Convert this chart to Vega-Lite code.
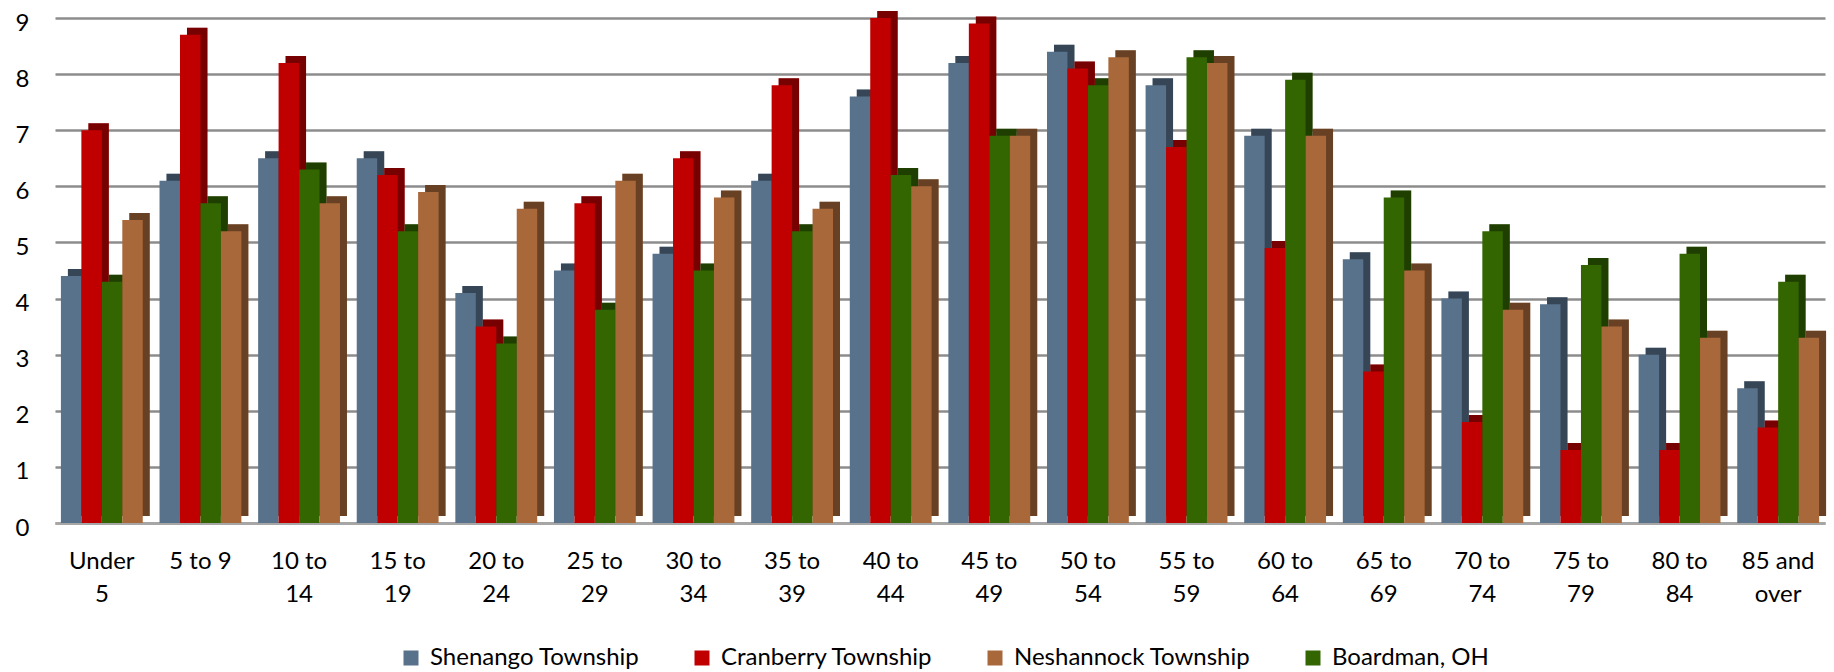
{
  "$schema": "https://vega.github.io/schema/vega-lite/v6.json",
  "width": 1770,
  "height": 505,
  "autosize": {"type": "none"},
  "padding": {"left": 55, "top": 18, "right": 9, "bottom": 149},
  "background": "white",
  "config": {
    "view": {"stroke": null},
    "font": "Lato",
    "axis": {"labelFont": "Lato", "labelColor": "#000000"},
    "legend": {"labelFont": "Lato", "labelColor": "#000000"}
  },
  "data": {
    "values": [
      {"age": "Under 5", "place": "Shenango Township", "value": 4.4},
      {"age": "Under 5", "place": "Cranberry Township", "value": 7.0},
      {"age": "Under 5", "place": "Boardman, OH", "value": 4.3},
      {"age": "Under 5", "place": "Neshannock Township", "value": 5.4},
      {"age": "5 to 9", "place": "Shenango Township", "value": 6.1},
      {"age": "5 to 9", "place": "Cranberry Township", "value": 8.7},
      {"age": "5 to 9", "place": "Boardman, OH", "value": 5.7},
      {"age": "5 to 9", "place": "Neshannock Township", "value": 5.2},
      {"age": "10 to 14", "place": "Shenango Township", "value": 6.5},
      {"age": "10 to 14", "place": "Cranberry Township", "value": 8.2},
      {"age": "10 to 14", "place": "Boardman, OH", "value": 6.3},
      {"age": "10 to 14", "place": "Neshannock Township", "value": 5.7},
      {"age": "15 to 19", "place": "Shenango Township", "value": 6.5},
      {"age": "15 to 19", "place": "Cranberry Township", "value": 6.2},
      {"age": "15 to 19", "place": "Boardman, OH", "value": 5.2},
      {"age": "15 to 19", "place": "Neshannock Township", "value": 5.9},
      {"age": "20 to 24", "place": "Shenango Township", "value": 4.1},
      {"age": "20 to 24", "place": "Cranberry Township", "value": 3.5},
      {"age": "20 to 24", "place": "Boardman, OH", "value": 3.2},
      {"age": "20 to 24", "place": "Neshannock Township", "value": 5.6},
      {"age": "25 to 29", "place": "Shenango Township", "value": 4.5},
      {"age": "25 to 29", "place": "Cranberry Township", "value": 5.7},
      {"age": "25 to 29", "place": "Boardman, OH", "value": 3.8},
      {"age": "25 to 29", "place": "Neshannock Township", "value": 6.1},
      {"age": "30 to 34", "place": "Shenango Township", "value": 4.8},
      {"age": "30 to 34", "place": "Cranberry Township", "value": 6.5},
      {"age": "30 to 34", "place": "Boardman, OH", "value": 4.5},
      {"age": "30 to 34", "place": "Neshannock Township", "value": 5.8},
      {"age": "35 to 39", "place": "Shenango Township", "value": 6.1},
      {"age": "35 to 39", "place": "Cranberry Township", "value": 7.8},
      {"age": "35 to 39", "place": "Boardman, OH", "value": 5.2},
      {"age": "35 to 39", "place": "Neshannock Township", "value": 5.6},
      {"age": "40 to 44", "place": "Shenango Township", "value": 7.6},
      {"age": "40 to 44", "place": "Cranberry Township", "value": 9.0},
      {"age": "40 to 44", "place": "Boardman, OH", "value": 6.2},
      {"age": "40 to 44", "place": "Neshannock Township", "value": 6.0},
      {"age": "45 to 49", "place": "Shenango Township", "value": 8.2},
      {"age": "45 to 49", "place": "Cranberry Township", "value": 8.9},
      {"age": "45 to 49", "place": "Boardman, OH", "value": 6.9},
      {"age": "45 to 49", "place": "Neshannock Township", "value": 6.9},
      {"age": "50 to 54", "place": "Shenango Township", "value": 8.4},
      {"age": "50 to 54", "place": "Cranberry Township", "value": 8.1},
      {"age": "50 to 54", "place": "Boardman, OH", "value": 7.8},
      {"age": "50 to 54", "place": "Neshannock Township", "value": 8.3},
      {"age": "55 to 59", "place": "Shenango Township", "value": 7.8},
      {"age": "55 to 59", "place": "Cranberry Township", "value": 6.7},
      {"age": "55 to 59", "place": "Boardman, OH", "value": 8.3},
      {"age": "55 to 59", "place": "Neshannock Township", "value": 8.2},
      {"age": "60 to 64", "place": "Shenango Township", "value": 6.9},
      {"age": "60 to 64", "place": "Cranberry Township", "value": 4.9},
      {"age": "60 to 64", "place": "Boardman, OH", "value": 7.9},
      {"age": "60 to 64", "place": "Neshannock Township", "value": 6.9},
      {"age": "65 to 69", "place": "Shenango Township", "value": 4.7},
      {"age": "65 to 69", "place": "Cranberry Township", "value": 2.7},
      {"age": "65 to 69", "place": "Boardman, OH", "value": 5.8},
      {"age": "65 to 69", "place": "Neshannock Township", "value": 4.5},
      {"age": "70 to 74", "place": "Shenango Township", "value": 4.0},
      {"age": "70 to 74", "place": "Cranberry Township", "value": 1.8},
      {"age": "70 to 74", "place": "Boardman, OH", "value": 5.2},
      {"age": "70 to 74", "place": "Neshannock Township", "value": 3.8},
      {"age": "75 to 79", "place": "Shenango Township", "value": 3.9},
      {"age": "75 to 79", "place": "Cranberry Township", "value": 1.3},
      {"age": "75 to 79", "place": "Boardman, OH", "value": 4.6},
      {"age": "75 to 79", "place": "Neshannock Township", "value": 3.5},
      {"age": "80 to 84", "place": "Shenango Township", "value": 3.0},
      {"age": "80 to 84", "place": "Cranberry Township", "value": 1.3},
      {"age": "80 to 84", "place": "Boardman, OH", "value": 4.8},
      {"age": "80 to 84", "place": "Neshannock Township", "value": 3.3},
      {"age": "85 and over", "place": "Shenango Township", "value": 2.4},
      {"age": "85 and over", "place": "Cranberry Township", "value": 1.7},
      {"age": "85 and over", "place": "Boardman, OH", "value": 4.3},
      {"age": "85 and over", "place": "Neshannock Township", "value": 3.3}
    ]
  },
  "encoding": {
    "x": {
      "field": "age",
      "type": "nominal",
      "sort": null,
      "scale": {"paddingInner": 0.17, "paddingOuter": 0.06},
      "axis": {
        "title": null,
        "labelAngle": 0,
        "labelFontSize": 24,
        "labelPadding": 26,
        "labelLineHeight": 33,
        "labelBaseline": "top",
        "ticks": false,
        "domain": true,
        "domainColor": "#a6a6a6",
        "domainWidth": 3,
        "labelExpr": "length(datum.label) > 6 ? [slice(datum.label, 0, lastindexof(datum.label, ' ')), slice(datum.label, lastindexof(datum.label, ' ') + 1)] : datum.label"
      }
    },
    "y": {
      "field": "value",
      "type": "quantitative",
      "scale": {"domain": [0, 9], "nice": false},
      "axis": {
        "title": null,
        "values": [0, 1, 2, 3, 4, 5, 6, 7, 8, 9],
        "labelFontSize": 24,
        "labelPadding": 26,
        "labelOffset": 5,
        "ticks": false,
        "domain": false,
        "grid": true,
        "gridColor": "#8c8c8c",
        "gridWidth": 2.5
      }
    },
    "color": {
      "field": "place",
      "type": "nominal",
      "scale": {
        "domain": ["Shenango Township", "Cranberry Township", "Neshannock Township", "Boardman, OH"],
        "range": ["#58728b", "#c00000", "#a9683a", "#336600"]
      },
      "legend": {
        "title": null,
        "orient": "none",
        "direction": "horizontal",
        "legendX": 344,
        "legendY": 628,
        "symbolType": "square",
        "symbolSize": 225,
        "symbolStrokeWidth": 0,
        "labelFontSize": 24,
        "labelLimit": 500,
        "columnPadding": 50,
        "labelOffset": 7
      }
    }
  },
  "resolve": {"scale": {"xOffset": "independent"}},
  "layer": [
    {
      "mark": {"type": "bar", "yOffset": -7},
      "encoding": {
        "xOffset": {
          "field": "place",
          "type": "nominal",
          "scale": {"domain": ["Shenango Township", "Cranberry Township", "Boardman, OH", "Neshannock Township"], "range": [7, 88.84], "paddingInner": 0, "paddingOuter": 0}
        }
      }
    },
    {
      "mark": {"type": "bar", "yOffset": -7, "opacity": 0.38},
      "encoding": {
        "color": {"value": "#000000"},
        "xOffset": {
          "field": "place",
          "type": "nominal",
          "scale": {"domain": ["Shenango Township", "Cranberry Township", "Boardman, OH", "Neshannock Township"], "range": [7, 88.84], "paddingInner": 0, "paddingOuter": 0}
        }
      }
    },
    {
      "mark": {"type": "bar"},
      "encoding": {
        "xOffset": {
          "field": "place",
          "type": "nominal",
          "scale": {"domain": ["Shenango Township", "Cranberry Township", "Boardman, OH", "Neshannock Township"], "paddingInner": 0, "paddingOuter": 0}
        }
      }
    }
  ]
}
